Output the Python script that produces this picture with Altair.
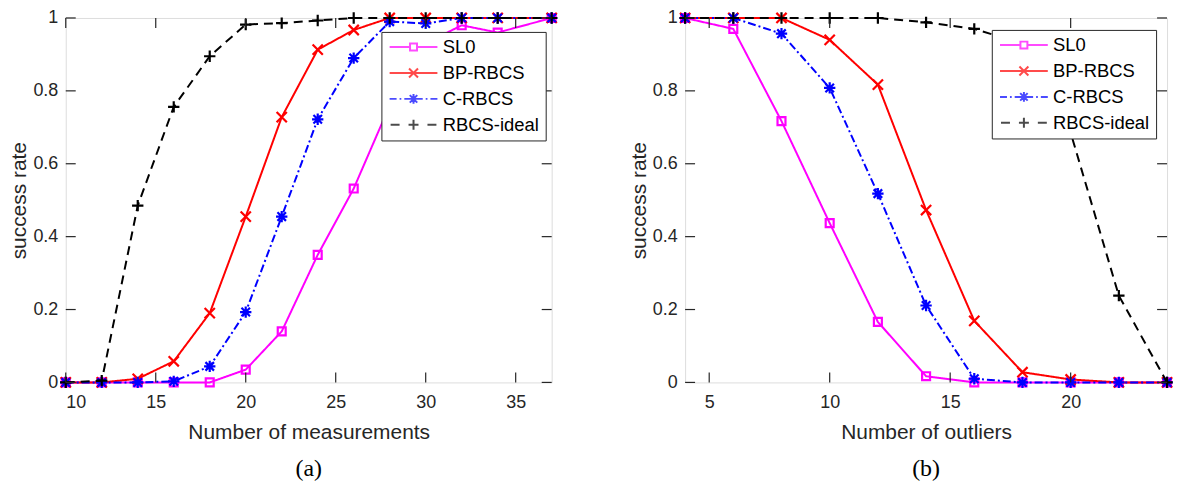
import altair as alt
import pandas as pd

# ---------------- data ----------------
series = ["SL0", "BP-RBCS", "C-RBCS", "RBCS-ideal"]
colors = ["#FF00FF", "#FF0000", "#0000FF", "#000000"]

# panel (a): success rate vs number of measurements
x_a = [10, 12, 14, 16, 18, 20, 22, 24, 26, 28, 30, 32, 34, 37]
sl0_a = [0, 0, 0, 0, 0, 0.035, 0.14, 0.35, 0.532, 0.76, 0.93, 0.98, 0.96, 1.0]
bp_a = [0, 0, 0.01, 0.058, 0.19, 0.455, 0.728, 0.913, 0.967, 1.0, 1.0, 1.0, 1.0, 1.0]
c_a = [0, 0, 0, 0.003, 0.044, 0.193, 0.455, 0.722, 0.89, 0.99, 0.985, 1.0, 1.0, 1.0]
ideal_a = [0, 0.005, 0.485, 0.756, 0.895, 0.982, 0.986, 0.993, 1.0, 1.0, 1.0, 1.0, 1.0, 1.0]

# panel (b): success rate vs number of outliers
x_b = [4, 6, 8, 10, 12, 14, 16, 18, 20, 22, 24]
sl0_b = [1.0, 0.97, 0.717, 0.437, 0.166, 0.017, 0, 0, 0, 0, 0]
bp_b = [1.0, 1.0, 1.0, 0.94, 0.817, 0.473, 0.169, 0.028, 0.008, 0, 0]
c_b = [1.0, 1.0, 0.957, 0.808, 0.518, 0.211, 0.01, 0, 0, 0, 0]
ideal_b = [1.0, 1.0, 1.0, 1.0, 1.0, 0.988, 0.97, 0.93, 0.685, 0.238, 0]

xticks_a = [10, 15, 20, 25, 30, 35]
xticks_b = [5, 10, 15, 20]
yticks = [0, 0.2, 0.4, 0.6, 0.8, 1]

# ---------------- styles ----------------
AX = "#262626"
FONT = "Liberation Sans"
dashes = [[1, 0], [1, 0], [8, 3, 2, 3], [9, 6]]
markers = [
    "M-0.7,-0.7H0.7V0.7H-0.7Z",
    "M-0.9,-0.9L0.9,0.9M-0.9,0.9L0.9,-0.9",
    "M-1,0H1M0,-1V1M-0.75,-0.75L0.75,0.75M-0.75,0.75L0.75,-0.75",
    "M-1,0H1M0,-1V1",
]
legend_paths = [
    "M-4.8,0H-0.7M0.7,0H4.8M-0.7,-0.7H0.7V0.7H-0.7Z",
    "M-4.8,0H4.8M-0.9,-0.9L0.9,0.9M-0.9,0.9L0.9,-0.9",
    "M-4.8,0H-3.4M-2.8,0H-2.45M-1.85,0H-1M1,0H1.85M2.45,0H2.8M3.4,0H4.8"
    "M-1,0H1M0,-1V1M-0.75,-0.75L0.75,0.75M-0.75,0.75L0.75,-0.75",
    "M-4.6,0H-2.8M2.8,0H4.6M-1,0H1M0,-1V1",
]

H = 366


def panel(xs, ys_list, xdomain, xticks, xtitle, caption, width, lx, ly):
    xscale = alt.Scale(domain=xdomain, nice=False, zero=False)
    yscale = alt.Scale(domain=[0, 1], nice=False)
    xaxis = alt.Axis(
        title=xtitle, values=xticks, ticks=False, domain=False, grid=False,
        labelFont=FONT, labelFontSize=18, labelColor=AX, labelPadding=11,
        titleFont=FONT, titleFontSize=21, titleFontWeight="normal",
        titleColor=AX, titlePadding=10, format="d",
    )
    yaxis = alt.Axis(
        title="success rate", values=yticks, ticks=False, domain=False, grid=False,
        labelFont=FONT, labelFontSize=18, labelColor=AX, labelPadding=8,
        titleFont=FONT, titleFontSize=21, titleFontWeight="normal",
        titleColor=AX, titlePadding=3, format="~g",
    )
    layers = []
    for i, s in enumerate(series):
        df = pd.DataFrame({"x": xs, "value": ys_list[i]})
        base = alt.Chart(df).encode(
            x=alt.X("x:Q", scale=xscale, axis=xaxis),
            y=alt.Y("value:Q", scale=yscale, axis=yaxis),
        )
        layers.append(
            base.mark_line(color=colors[i], strokeWidth=2, strokeDash=dashes[i])
        )
        layers.append(
            base.mark_point(shape=markers[i], color=colors[i], filled=False,
                            size=130, strokeWidth=2.2, opacity=1)
        )

    # inward tick marks on all four sides
    xt = pd.DataFrame({"t": xticks})
    yt = pd.DataFrame({"t": yticks})
    for yv, off in [(0, -5), (1, 5)]:
        layers.append(
            alt.Chart(xt).mark_tick(orient="vertical", size=10, thickness=1.2,
                                    yOffset=off, color=AX, opacity=1)
            .encode(x=alt.X("t:Q", scale=xscale, axis=xaxis),
                    y=alt.YDatum(yv, scale=yscale, axis=yaxis))
        )
    for xv, off in [(xdomain[0], 5), (xdomain[1], -5)]:
        layers.append(
            alt.Chart(yt).mark_tick(orient="horizontal", size=10, thickness=1.2,
                                    xOffset=off, color=AX, opacity=1)
            .encode(y=alt.Y("t:Q", scale=yscale, axis=yaxis),
                    x=alt.XDatum(xv, scale=xscale, axis=xaxis))
        )

    # legend-only layer
    leg = pd.DataFrame({"method": series})
    lg = alt.Legend(
        title=None, orient="none", legendX=lx, legendY=ly,
        strokeColor=AX, fillColor="white", padding=6,
        labelFont=FONT, labelFontSize=18.5, labelColor="#000",
        symbolSize=100, symbolStrokeWidth=2,
        symbolOffset=17, labelOffset=20, rowPadding=7)
    layers.append(
        alt.Chart(leg).mark_point(filled=False, strokeWidth=2)
        .transform_filter("false")
        .encode(
            color=alt.Color("method:N", scale=alt.Scale(domain=series, range=colors),
                            legend=lg),
            shape=alt.Shape("method:N", scale=alt.Scale(domain=series, range=legend_paths),
                            legend=lg),
        )
    )
    return alt.layer(*layers).properties(
        width=width, height=H,
        title=alt.TitleParams(caption, orient="bottom", font="Liberation Serif",
                              fontSize=24, fontWeight="normal", color="#000",
                              offset=15, anchor="middle", frame="group"),
    )


pa = panel(x_a, [sl0_a, bp_a, c_a, ideal_a], [10, 37], xticks_a,
           "Number of measurements", "(a)", 488, 317, 14)
pb = panel(x_b, [sl0_b, bp_b, c_b, ideal_b], [4, 24], xticks_b,
           "Number of outliers", "(b)", 484, 308, 12)

chart = (
    alt.hconcat(pa, pb, spacing=65)
    .resolve_scale(color="independent", shape="independent",
                   x="independent", y="independent")
    .resolve_legend(color="independent", shape="independent")
    .properties(padding={"left": 0, "top": -2, "right": 0, "bottom": 0})
    .configure_view(stroke=AX, strokeWidth=1)
    .configure(background="white")
)

chart.save("out.html", embed_options={"renderer": "svg", "actions": False})
